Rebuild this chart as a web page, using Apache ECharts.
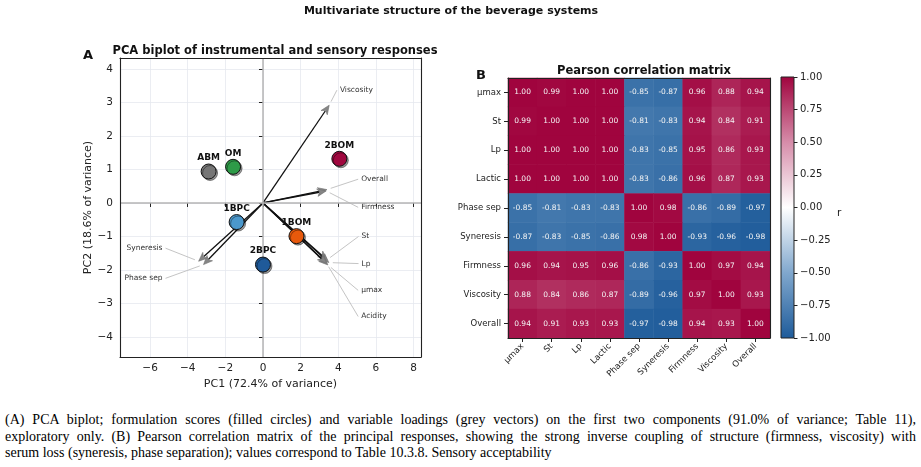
<!DOCTYPE html>
<html>
<head>
<meta charset="utf-8">
<script src="https://cdn.jsdelivr.net/npm/echarts@6/dist/echarts.min.js"></script>
<style>
  html, body { margin: 0; padding: 0; background: #fff; }
  #main { width: 921px; height: 400px; }
  #caption { font-family: "Liberation Serif", "Times New Roman", serif; font-size: 14px; color: #000; padding: 12px 0 0 5px; width: 911px; line-height: 16.5px; }
  #caption .j { text-align: justify; text-align-last: justify; }
</style>
</head>
<body>
<div id="main"></div>
<div id="caption">
  <div class="j">(A) PCA biplot; formulation scores (filled circles) and variable loadings (grey vectors) on the first two components (91.0% of variance; Table 11),</div>
  <div class="j">exploratory only. (B) Pearson correlation matrix of the principal responses, showing the strong inverse coupling of structure (firmness, viscosity) with</div>
  <div>serum loss (syneresis, phase separation); values correspond to Table 10.3.8. Sensory acceptability</div>
</div>
<script>
// PCA scores (formulations)
var sampleNames = ['ABM', 'OM', '2BOM', '1BPC', '1BOM', '2BPC'];
var samplePC1 = [-2.89, -1.59, 4.06, -1.40, 1.78, 0.00];
var samplePC2 = [0.94, 1.08, 1.32, -0.57, -0.99, -1.84];
var sampleColors = ['#767676', '#2e9b48', '#a0083f', '#4b98cc', '#e8590c', '#1f5a99'];

// PCA loadings (scaled vectors)
var varNames = ['Viscosity', 'Overall', 'Firmness', 'St', 'Lp', 'µmax', 'Acidity', 'Syneresis', 'Phase sep'];
var loadPC1 = [3.52, 3.40, 3.36, 3.40, 3.50, 3.45, 3.38, -3.42, -3.16];
var loadPC2 = [2.92, 0.40, 0.36, -1.70, -1.78, -1.85, -1.80, -1.74, -1.84];
// where the loading labels sit (end of the leader line)
var labelX = [3.93, 5.06, 5.06, 5.08, 5.08, 5.06, 5.06, -5.18, -5.18];
var labelY = [3.37, 0.71, -0.13, -1.00, -1.81, -2.61, -3.39, -1.35, -2.25];

// correlation matrix
var corrNames = ['µmax', 'St', 'Lp', 'Lactic', 'Phase sep', 'Syneresis', 'Firmness', 'Viscosity', 'Overall'];
var corrRows = [
    [1.00, 0.99, 1.00, 1.00, -0.85, -0.87, 0.96, 0.88, 0.94],
    [0.99, 1.00, 1.00, 1.00, -0.81, -0.83, 0.94, 0.84, 0.91],
    [1.00, 1.00, 1.00, 1.00, -0.83, -0.85, 0.95, 0.86, 0.93],
    [1.00, 1.00, 1.00, 1.00, -0.83, -0.86, 0.96, 0.87, 0.93],
    [-0.85, -0.81, -0.83, -0.83, 1.00, 0.98, -0.86, -0.89, -0.97],
    [-0.87, -0.83, -0.85, -0.86, 0.98, 1.00, -0.93, -0.96, -0.98],
    [0.96, 0.94, 0.95, 0.96, -0.86, -0.93, 1.00, 0.97, 0.94],
    [0.88, 0.84, 0.86, 0.87, -0.89, -0.96, 0.97, 1.00, 0.93],
    [0.94, 0.91, 0.93, 0.93, -0.97, -0.98, 0.94, 0.93, 1.00]
];
var cmapColors = ['#1e5b9a', '#80a7cd', '#ffffff', '#d68ca9', '#a0043e'];

var FONT = 'DejaVu Sans';

function minus(v) {
    return v < 0 ? '\u2212' + Math.abs(v) : '' + v;
}

// build series data
var scoreData = [];
for (var i = 0; i < sampleNames.length; i++) {
    scoreData.push({
        name: sampleNames[i],
        value: [samplePC1[i], samplePC2[i]],
        itemStyle: { color: sampleColors[i] }
    });
}
var loadData = [];
for (var i = 0; i < varNames.length; i++) {
    loadData.push({ name: varNames[i], value: [loadPC1[i], loadPC2[i], labelX[i], labelY[i]] });
}
var heatData = [];
for (var r = 0; r < corrRows.length; r++) {
    for (var c = 0; c < corrRows[r].length; c++) {
        heatData.push([c, r, corrRows[r][c]]);
    }
}

function renderArrow(params, api) {
    var o = api.coord([0, 0]);
    var p = api.coord([api.value(0), api.value(1)]);
    var dx = p[0] - o[0], dy = p[1] - o[1];
    var len = Math.sqrt(dx * dx + dy * dy);
    var ux = dx / len, uy = dy / len;
    var hl = 9, hw = 3.8;
    var bx = p[0] - ux * hl, by = p[1] - uy * hl;
    return {
        type: 'group',
        children: [{
            type: 'line',
            shape: { x1: o[0], y1: o[1], x2: bx + ux * 2, y2: by + uy * 2 },
            style: { stroke: '#111', lineWidth: 1.3 }
        }, {
            type: 'polygon',
            shape: { points: [p, [bx - uy * hw, by + ux * hw], [bx + ux * 2.5, by + uy * 2.5], [bx + uy * hw, by - ux * hw]] },
            style: { fill: '#858585', stroke: '#6f6f6f', lineWidth: 0.6 }
        }]
    };
}

function renderLeader(params, api) {
    var tip = api.coord([api.value(0), api.value(1)]);
    var lab = api.coord([api.value(2), api.value(3)]);
    var dx = lab[0] - tip[0], dy = lab[1] - tip[1];
    var len = Math.sqrt(dx * dx + dy * dy);
    var s = [tip[0] + dx / len * 4, tip[1] + dy / len * 4];
    var right = lab[0] > tip[0];
    return {
        type: 'group',
        children: [{
            type: 'line',
            shape: { x1: s[0], y1: s[1], x2: lab[0], y2: lab[1] },
            style: { stroke: '#bdbdbd', lineWidth: 0.9 }
        }, {
            type: 'text',
            x: lab[0] + (right ? 3 : -3),
            y: lab[1],
            style: {
                text: varNames[params.dataIndex],
                fill: '#333',
                fontSize: 7.5,
                fontFamily: FONT,
                align: right ? 'left' : 'right',
                verticalAlign: 'middle'
            }
        }]
    };
}

function renderBar(params, api) {
    var top = api.coord([0, 1]);
    var bot = api.coord([0, -1]);
    var w = api.size([1, 0])[0];
    var stops = [];
    for (var k = 0; k < cmapColors.length; k++) {
        stops.push({ offset: k / (cmapColors.length - 1), color: cmapColors[cmapColors.length - 1 - k] });
    }
    return {
        type: 'rect',
        shape: { x: top[0] - w / 2, y: top[1], width: w, height: bot[1] - top[1] },
        style: { fill: new echarts.graphic.LinearGradient(0, 0, 0, 1, stops), stroke: '#222', lineWidth: 1 }
    };
}

// frame-only axis (plot spines)
function spine(grid, pos) {
    return {
        gridIndex: grid, type: 'value', position: pos, z: 10,
        axisLine: { show: true, onZero: false, lineStyle: { color: '#222', width: 1.1 } },
        axisTick: { show: false }, axisLabel: { show: false }, splitLine: { show: false }
    };
}

var frameLine = { show: true, onZero: false, lineStyle: { color: '#222', width: 1.1 } };

var chart = echarts.init(document.getElementById('main'));
var option = {
    animation: false,
    textStyle: { fontFamily: FONT },
    title: [{
        text: 'Multivariate structure of the beverage systems',
        left: 446, top: 1, textAlign: 'center',
        textStyle: { fontSize: 11, fontWeight: 'bold', color: '#111' }
    }, {
        text: 'PCA biplot of instrumental and sensory responses',
        left: 270, top: 40, textAlign: 'center',
        textStyle: { fontSize: 11.5, fontWeight: 'bold', color: '#111' }
    }, {
        text: 'A', left: 78, top: 44,
        textStyle: { fontSize: 13, fontWeight: 'bold', color: '#111' }
    }, {
        text: 'Pearson correlation matrix',
        left: 639, top: 60, textAlign: 'center',
        textStyle: { fontSize: 11.5, fontWeight: 'bold', color: '#111' }
    }, {
        text: 'B', left: 471, top: 64,
        textStyle: { fontSize: 13, fontWeight: 'bold', color: '#111' }
    }],
    grid: [
        { left: 120, top: 58, width: 301, height: 299 },
        { left: 508, top: 78, width: 262, height: 260 },
        { left: 781, top: 77, width: 13, height: 261 }
    ],
    xAxis: [{
        gridIndex: 0, type: 'value', min: -7.6, max: 8.4, splitNumber: 8,
        name: 'PC1 (72.4% of variance)', nameLocation: 'middle', nameGap: 21,
        nameTextStyle: { fontSize: 11, color: '#222' },
        axisLine: { show: false },
        axisTick: { show: true, length: 4, lineStyle: { color: '#222' } },
        axisLabel: { fontSize: 10.5, color: '#222', margin: 6, showMinLabel: false, showMaxLabel: false, formatter: minus },
        splitLine: { lineStyle: { color: '#e6e8ef', width: 0.8 } }
    }, {
        gridIndex: 1, type: 'category', data: corrNames, position: 'bottom', z: 10,
        axisLine: frameLine,
        axisTick: { show: true, length: 4, alignWithLabel: true, lineStyle: { color: '#222' } },
        axisLabel: { fontSize: 8.5, color: '#222', rotate: 45, margin: 7, interval: 0 },
        splitLine: { show: false }
    }, {
        gridIndex: 2, type: 'category', data: ['r'], show: false
    }, spine(0, 'top'), spine(1, 'top'), spine(0, 'bottom')],
    yAxis: [{
        gridIndex: 0, type: 'value', min: -4.6, max: 4.33, splitNumber: 9,
        name: 'PC2 (18.6% of variance)', nameLocation: 'middle', nameGap: 26, nameRotate: 90,
        nameTextStyle: { fontSize: 11, color: '#222' },
        axisLine: { show: false },
        axisTick: { show: true, length: 4, lineStyle: { color: '#222' } },
        axisLabel: { fontSize: 10.5, color: '#222', margin: 7, showMinLabel: false, showMaxLabel: false, formatter: minus },
        splitLine: { lineStyle: { color: '#e6e8ef', width: 0.8 } }
    }, {
        gridIndex: 1, type: 'category', data: corrNames, inverse: true, z: 10,
        axisLine: frameLine,
        axisTick: { show: true, length: 4, alignWithLabel: true, lineStyle: { color: '#222' } },
        axisLabel: { fontSize: 8.5, color: '#222', margin: 7, interval: 0 },
        splitLine: { show: false }
    }, {
        gridIndex: 2, type: 'value', min: -1, max: 1, interval: 0.25, position: 'right',
        name: 'r', nameLocation: 'middle', nameGap: 43, nameRotate: 0,
        nameTextStyle: { fontSize: 10.5, color: '#222', verticalAlign: 'top' },
        axisLine: { show: false },
        axisTick: { show: true, length: 3.5, lineStyle: { color: '#222' } },
        axisLabel: { fontSize: 10, color: '#222', margin: 6, formatter: function (v) { return (v < 0 ? '\u2212' : '') + Math.abs(v).toFixed(2); } },
        splitLine: { show: false }
    }, spine(0, 'right'), spine(1, 'right'), spine(0, 'left')],
    visualMap: {
        show: false, type: 'continuous', min: -1, max: 1, seriesIndex: 4,
        inRange: { color: cmapColors }
    },
    series: [{
        // loading vectors
        type: 'custom', xAxisIndex: 0, yAxisIndex: 0, z: 3,
        renderItem: renderArrow,
        data: loadData,
        markLine: {
            silent: true, symbol: 'none', label: { show: false },
            lineStyle: { color: '#b5b5b5', width: 1.5, type: 'solid' },
            data: [{ xAxis: 0 }, { yAxis: 0 }]
        }
    }, {
        type: 'custom', xAxisIndex: 0, yAxisIndex: 0, z: 3,
        renderItem: renderLeader,
        data: loadData
    }, {
        // formulation scores
        type: 'scatter', xAxisIndex: 0, yAxisIndex: 0, z: 5,
        symbolSize: 15,
        data: scoreData,
        itemStyle: { borderColor: '#111', borderWidth: 1, opacity: 1, shadowColor: 'rgba(0,0,0,0.4)', shadowOffsetX: 1.5, shadowOffsetY: 1.5, shadowBlur: 0 },
        label: {
            show: true, position: 'top', distance: 1,
            formatter: '{b}', fontSize: 9, fontWeight: 'bold', color: '#111'
        }
    }, {
        type: 'custom', xAxisIndex: 2, yAxisIndex: 2,
        renderItem: renderBar,
        data: [[0, 0]]
    }, {
        type: 'heatmap', xAxisIndex: 1, yAxisIndex: 1,
        data: heatData,
        label: {
            show: true, fontSize: 7.5, color: '#f4f4f4',
            formatter: function (p) { return p.value[2].toFixed(2); }
        },
        itemStyle: { borderWidth: 0 }
    }]
};
chart.setOption(option);
</script>
</body>
</html>
